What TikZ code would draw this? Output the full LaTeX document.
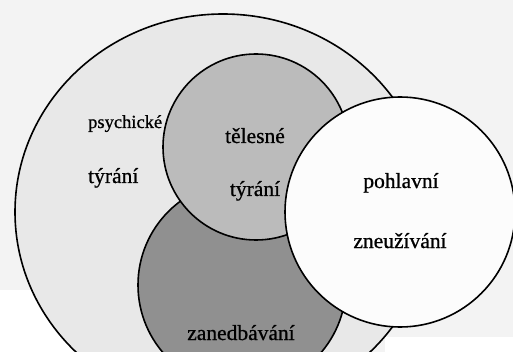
\documentclass[tikz,border=0pt]{standalone}
\usepackage{fontspec}
\setmainfont{Liberation Serif}
\newfontfamily\scanfont{Liberation Serif}[FakeBold=0.8]
\definecolor{bgc}{HTML}{F3F3F3}
\definecolor{psyc}{HTML}{E8E8E8}
\definecolor{phyc}{HTML}{BBBBBB}
\definecolor{negc}{HTML}{909090}
\definecolor{sexc}{HTML}{FCFCFC}
\begin{document}
\begin{tikzpicture}[x=1pt,y=-1pt,
  ring/.style={draw=black, line width=1.6pt},
  lbl/.style={font=\scanfont\fontsize{21.5}{24}\selectfont, inner sep=0pt},
  slbl/.style={font=\scanfont\fontsize{18.5}{21}\selectfont, inner sep=0pt}]
\useasboundingbox (0,0) rectangle (513,352);
\clip (0,0) rectangle (513,352);
\fill[bgc] (0,0) rectangle (513,352);
\fill[white] (0,290) rectangle (80,352);
\fill[white] (385,337) rectangle (513,352);
\filldraw[ring, fill=psyc] (223,212) ellipse [x radius=208, y radius=198];
\filldraw[ring, fill=negc] (242,285) circle [radius=104];
\filldraw[ring, fill=phyc] (256,147) circle [radius=93];
\filldraw[ring, fill=sexc] (400,212) circle [radius=115];
\node[slbl, anchor=base west] (psy1) at (88,128) {psychické};
\node[lbl, anchor=base west] (psy2) at (88,183) {týrání};
\node[lbl, anchor=base] (phy1) at (255,143) {tělesné};
\node[lbl, anchor=base] (phy2) at (255,196) {týrání};
\node[lbl, anchor=base] (sex1) at (401,188) {pohlavní};
\node[lbl, anchor=base] (sex2) at (400,248) {zneužívání};
\node[lbl, anchor=base] (neg) at (241,340) {zanedbávání};
\end{tikzpicture}
\end{document}
